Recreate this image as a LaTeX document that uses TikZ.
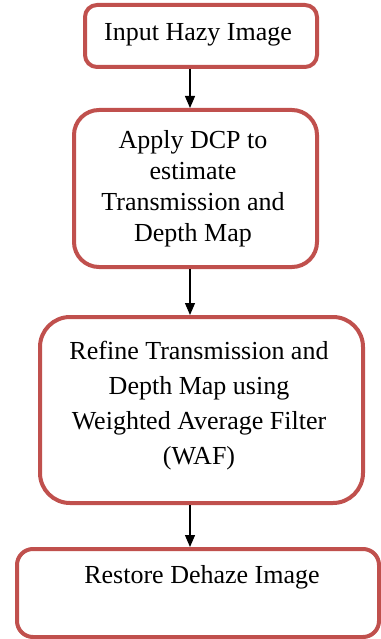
\documentclass[tikz,border=0pt]{standalone}
\usepackage{fontspec}
\setmainfont{Liberation Serif}
\usetikzlibrary{arrows.meta}
\definecolor{boxred}{HTML}{C0504D}
\tikzset{
  stepbox/.style={draw=boxred, line width=4pt, fill=white, inner sep=0pt},
  steptext/.style={font=\fontsize{26}{31}\selectfont, align=center, inner sep=0pt, text=black},
  flow/.style={line width=1.3pt, -{Triangle[width=10pt,length=12pt]}}
}
\begin{document}
\begin{tikzpicture}[x=1pt,y=1pt]
  \useasboundingbox (0,0) rectangle (380,-639);
  % boxes (pixel-sized, y grows downwards as negative)
  \node[stepbox, rounded corners=12pt, minimum width=232pt, minimum height=62pt] (b1) at (201,-36) {};
  \node[stepbox, rounded corners=25pt, minimum width=243pt, minimum height=157pt] (b2) at (195.5,-188.5) {};
  \node[stepbox, rounded corners=30pt, minimum width=323pt, minimum height=186pt] (b3) at (201.5,-410) {};
  \node[stepbox, rounded corners=16pt, minimum width=362pt, minimum height=88pt] (b4) at (198,-593) {};
  % texts
  \node[steptext] (t1) at (198,-35) {Input Hazy Image};
  \node[steptext] (t2) at (193,-189) {Apply DCP to\\estimate\\Transmission and\\Depth Map};
  \node[steptext, font=\fontsize{26}{35}\selectfont] (t3) at (199,-406) {Refine Transmission and\\Depth Map using\\Weighted Average Filter\\(WAF)};
  \node[steptext] (t4) at (202,-577) {Restore Dehaze Image};
  % connectors
  \coordinate (ax) at (190,0);
  \draw[flow] (b1.south -| ax) -- (b2.north -| ax);
  \draw[flow] (b2.south -| ax) -- (b3.north -| ax);
  \draw[flow] (b3.south -| ax) -- (b4.north -| ax);
\end{tikzpicture}
\end{document}
